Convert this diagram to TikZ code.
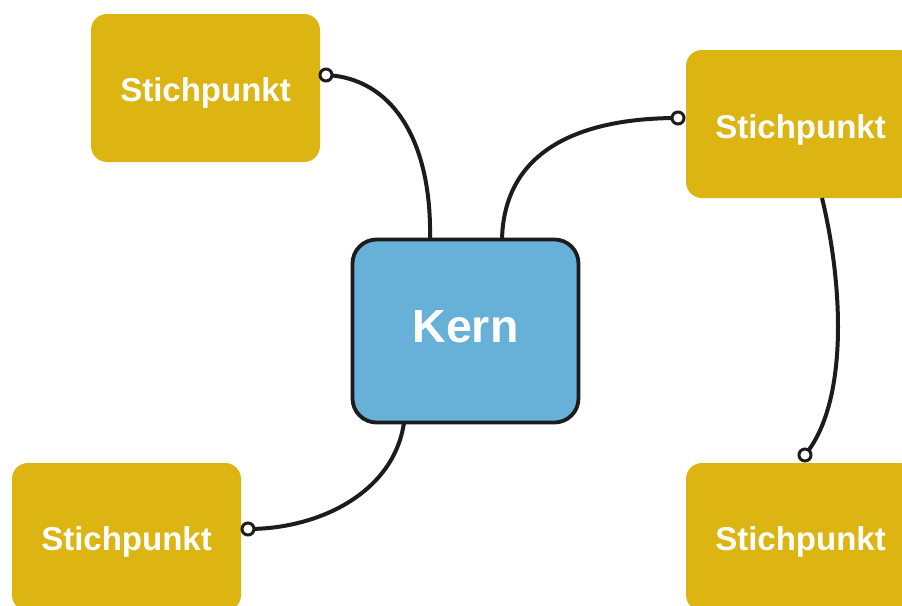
\documentclass[tikz,border=0pt]{standalone}
\usepackage{fontspec}
\setmainfont{Liberation Sans}
\definecolor{gold}{HTML}{DDB512}
\definecolor{kernblue}{HTML}{67B0D8}
\definecolor{ink}{HTML}{1C1C1C}
\begin{document}
\begin{tikzpicture}[x=1pt,y=-1pt,
  point/.style={draw=none,fill=gold,rounded corners=16pt,minimum width=229pt,minimum height=148pt,
    text=white,font=\bfseries\fontsize{33}{36}\selectfont,inner sep=0pt,text height=26pt,text depth=0pt},
  core/.style={draw=ink,line width=3.8pt,fill=kernblue,rounded corners=24pt,minimum width=226pt,minimum height=183pt,
    text=white,font=\bfseries\fontsize{46.5}{50}\selectfont,inner sep=0pt,text height=23pt,text depth=0pt},
  link/.style={draw=ink,line width=4pt},
  knob/.style={circle,draw=ink,fill=white,line width=3pt,minimum size=12pt,inner sep=0pt}]
\useasboundingbox (0,0) rectangle (902,605);
\clip (0,0) rectangle (902,605);
\node[point] (p1) at (205.5,88) {Stichpunkt};
\node[point,text height=28pt] (p2) at (800.5,124) {Stichpunkt};
\node[point] (p3) at (126.5,537) {Stichpunkt};
\node[point] (p4) at (800.5,537) {Stichpunkt};
\node[core] (kern) at (465.5,331) {Kern};
\coordinate (k1) at (430,239.5);
\coordinate (k2) at (502,239.5);
\coordinate (k3) at (404,422.5);
\coordinate (p2b) at (822,198);
\draw[link] (326,75) .. controls (392,78) and (432,140) .. (k1);
\draw[link] (k2) .. controls (504,150) and (580,118) .. (678,118);
\draw[link] (p2b) .. controls (842,280) and (850,400) .. (805,455);
\draw[link] (k3) .. controls (394,492) and (320,529) .. (248,529);
\node[knob] (c1) at (326,75) {};
\node[knob] (c2) at (678,118) {};
\node[knob] (c3) at (805,455) {};
\node[knob] (c4) at (248,529) {};
\end{tikzpicture}
\end{document}
